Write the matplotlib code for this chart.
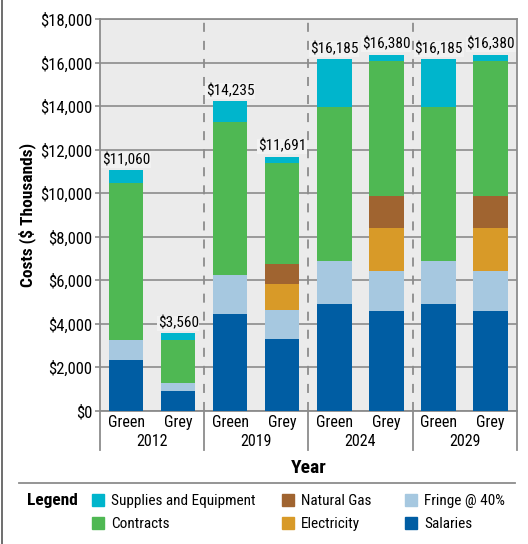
import matplotlib.pyplot as plt
import numpy as np
from matplotlib.lines import Line2D
from matplotlib.patches import Patch

plt.rcParams['font.family'] = ['Roboto Condensed', 'Liberation Sans Narrow', 'Liberation Sans', 'DejaVu Sans']

years = ['2012', '2019', '2024', '2029']
kinds = ['Green', 'Grey']

# one value per bar: 2012 Green, 2012 Grey, 2019 Green, 2019 Grey, ...
salaries = [2335, 910, 4450, 3300, 4910, 4590, 4910, 4590]
fringe = [934, 364, 1780, 1320, 1964, 1836, 1964, 1836]
electricity = [0, 0, 0, 1210, 0, 1970, 0, 1970]
natural_gas = [0, 0, 0, 920, 0, 1480, 0, 1480]
contracts = [7201, 1986, 7060, 4640, 7096, 6200, 7096, 6200]
supplies = [590, 300, 945, 301, 2215, 300, 2215, 300]
totals = [11060, 3560, 14235, 11691, 16185, 16380, 16185, 16380]

series = [
    ('Salaries', salaries, '#005da3'),
    ('Fringe @ 40%', fringe, '#a6c8e0'),
    ('Electricity', electricity, '#d89a28'),
    ('Natural Gas', natural_gas, '#a06430'),
    ('Contracts', contracts, '#4fb853'),
    ('Supplies and Equipment', supplies, '#00b5cc'),
]

fig = plt.figure(figsize=(5.28, 5.44), dpi=100)
ax = fig.add_axes([0.1894, 0.2449, 0.7892, 0.7196])
ax.set_facecolor('#ebebeb')

x = np.array([g + off for g in range(len(years)) for off in (0.25, 0.75)])
bottom = np.zeros(len(x))
handles = {}
for name, vals, col in series:
    ax.bar(x, vals, 0.33, bottom=bottom, color=col, zorder=3)
    handles[name] = Patch(color=col, label=name)
    bottom += np.array(vals)

for xi, t in zip(x, totals):
    ax.text(xi, t + 130, '${:,}'.format(t), ha='center', va='bottom', fontsize=11,
            zorder=4, bbox=dict(facecolor='#f2f2f2', edgecolor='none', pad=0.5))

ax.set_xlim(0, 4)
ax.set_ylim(0, 18000)
ax.set_yticks(range(0, 18001, 2000))
ax.set_yticklabels(['${:,}'.format(v) for v in range(0, 18001, 2000)], fontsize=12)
ax.yaxis.grid(True, color='#8c8c8c', linewidth=1.2, zorder=1)
ax.set_axisbelow(True)
ax.tick_params(axis='y', length=3.5, color='#8c8c8c', width=1.2, pad=2)
ax.set_xticks(x)
ax.set_xticklabels(kinds * len(years), fontsize=11.5)
ax.tick_params(axis='x', length=0, pad=3)

for g in range(1, len(years)):
    ax.axvline(g, color='#8c8c8c', linestyle=(0, (5, 5)), linewidth=1.3, zorder=2)

for s in ax.spines.values():
    s.set_color('#8c8c8c')
    s.set_linewidth(1.3)

trans = ax.get_xaxis_transform()
for g in range(len(years) + 1):
    ax.add_line(Line2D([g, g], [0, -0.10], transform=trans, color='#8c8c8c',
                       linewidth=1.3, clip_on=False))
for g, yr in enumerate(years):
    ax.text(g + 0.5, -0.078, yr, transform=trans, ha='center', va='center', fontsize=11.5)

ax.set_ylabel('Costs ($ Thousands)', fontsize=12.5, fontweight='bold', labelpad=3)
ax.text(0.5, -0.145, 'Year', transform=ax.transAxes, ha='center', va='center',
        fontsize=14, fontweight='bold')

fig.add_artist(Line2D([19 / 528, 515 / 528], [1 - 483 / 544] * 2, color='#8c8c8c', linewidth=1.3))
fig.add_artist(Line2D([1.5 / 528] * 2, [0, 1], color='#555555', linewidth=1.2))

fig.text(27 / 528, 1 - 501 / 544, 'Legend', fontsize=12.5, fontweight='bold', va='center')
columns = [(['Supplies and Equipment', 'Contracts'], 92),
           (['Natural Gas', 'Electricity'], 282),
           (['Fringe @ 40%', 'Salaries'], 405)]
for names, left in columns:
    fig.legend([handles[n] for n in names], names, ncol=1, frameon=False, fontsize=11,
               loc='upper left', bbox_to_anchor=(left / 528, 1 - 494 / 544),
               handlelength=0.8, handleheight=0.8, handletextpad=0.45,
               labelspacing=0.6, borderpad=0, borderaxespad=0)

fig.savefig('out.png', dpi=100)
